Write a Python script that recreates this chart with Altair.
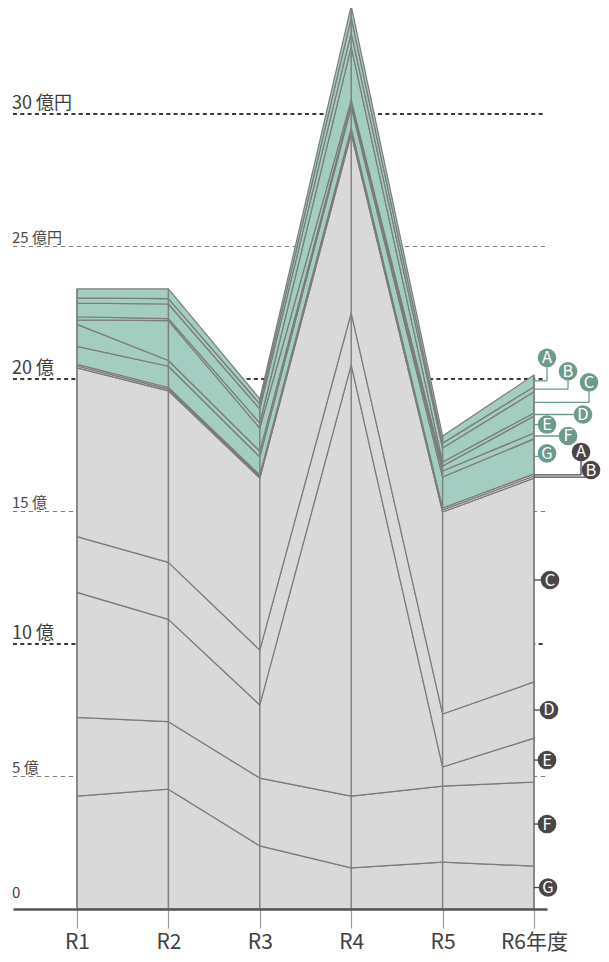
import json
import altair as alt
import pandas as pd

# ---------------- data ----------------
years = ["R1", "R2", "R3", "R4", "R5", "R6年度"]
letters = ["G", "F", "E", "D", "C", "B", "A"]  # bottom -> top inside each group

# gray group (億円)
gray_G = [4.26, 4.52, 2.38, 1.55, 1.77, 1.62]
gray_F = [2.97, 2.55, 2.56, 2.71, 2.87, 3.17]
gray_E = [4.72, 3.86, 2.76, 16.27, 0.72, 1.66]
gray_D = [2.10, 2.15, 2.07, 1.96, 2.00, 2.12]
gray_C = [6.37, 6.47, 6.49, 6.76, 7.62, 7.69]
gray_B = [0.07, 0.07, 0.06, 0.11, 0.08, 0.08]
gray_A = [0.06, 0.06, 0.06, 0.11, 0.07, 0.08]

# green group (億円)
green_G = [0.68, 0.80, 0.68, 0.79, 1.17, 1.32]
green_F = [0.83, 0.22, 0.22, 0.12, 0.23, 0.22]
green_E = [0.17, 1.50, 0.87, 0.15, 0.19, 0.64]
green_D = [0.12, 0.08, 0.19, 2.00, 0.15, 0.12]
green_C = [0.51, 0.55, 0.53, 0.53, 0.53, 0.80]
green_B = [0.20, 0.20, 0.19, 0.57, 0.18, 0.19]
green_A = [0.34, 0.37, 0.19, 0.45, 0.27, 0.44]

grid_values = [5, 10, 15, 20, 25, 30]
grid_labels = ["5 億", "10 億", "15 億", "20 億", "25 億円", "30 億円"]
grid_major = [False, True, False, True, False, True]

# ---------------- layout / style ----------------
WIDTH, HEIGHT = 534, 901
X_MIN, X_MAX = -0.70, 5.142
Y_MAX = 34.0
PX_X = WIDTH / (X_MAX - X_MIN)
PX_Y = HEIGHT / Y_MAX
FONT = "Noto Sans CJK JP"

GRAY_FILL = "#d9d9d9"
GREEN_FILL = "#a3cdc0"
LINE = "#7b7b7b"
GREEN_DOT = "#6c9a8b"
DARK_DOT = "#4a4647"

# label placement (pixel offsets from the R6 edge / layer middle), order A..G
green_label_dx = [13, 34, 55, 49, 13, 34, 13]
green_label_dy = [-23, -18, -20, 0, 0, 0, -3]
gray_label_dx = [47, 57, 16, 15, 13, 13, 14]
gray_label_dy = [-23, -7, 0, 0, 0, 0, 0]

series = {
    ("gray", "G"): gray_G, ("gray", "F"): gray_F, ("gray", "E"): gray_E,
    ("gray", "D"): gray_D, ("gray", "C"): gray_C, ("gray", "B"): gray_B,
    ("gray", "A"): gray_A,
    ("green", "G"): green_G, ("green", "F"): green_F, ("green", "E"): green_E,
    ("green", "D"): green_D, ("green", "C"): green_C, ("green", "B"): green_B,
    ("green", "A"): green_A,
}

rows = []
layer_ids, layer_colors = [], []
order = 0
for grp in ["gray", "green"]:
    for L in letters:
        lid = f"{grp}_{L}"
        layer_ids.append(lid)
        layer_colors.append(GRAY_FILL if grp == "gray" else GREEN_FILL)
        for i, v in enumerate(series[(grp, L)]):
            rows.append({"xi": i, "layer": lid, "group": grp, "letter": L,
                         "value": v, "order": order})
        order += 1
df = pd.DataFrame(rows)

# label anchors at the last year (middle of each layer)
last = len(years) - 1
lab_rows = []
cum = 0.0
for grp in ["gray", "green"]:
    for L in letters:
        v = series[(grp, L)][last]
        mid = cum + v / 2
        cum += v
        idx = "ABCDEFG".index(L)
        if grp == "green":
            dx, dy = green_label_dx[idx], green_label_dy[idx]
        else:
            dx, dy = gray_label_dx[idx], gray_label_dy[idx]
        cx = last + dx / PX_X
        cy = mid - dy / PX_Y
        lab_rows.append({"letter": L, "group": grp, "x0": last, "cx": cx,
                         "mid": mid, "cy": cy})
lab = pd.DataFrame(lab_rows)

grid = pd.DataFrame({"v": grid_values, "label": grid_labels, "major": grid_major})

xscale = alt.Scale(domain=[X_MIN, X_MAX], nice=False, zero=False)
yscale = alt.Scale(domain=[0, Y_MAX], nice=False, zero=True)

label_expr = json.dumps(years, ensure_ascii=False) + "[datum.value]"

# gridlines
grid_major_rule = alt.Chart(grid).transform_filter("datum.major").mark_rule(
    color="#3a3a3a", strokeWidth=1.8, strokeDash=[4, 3.3]
).encode(x=alt.value(0), x2=alt.value(532), y=alt.Y("v:Q", scale=yscale, axis=None))

grid_minor_rule = alt.Chart(grid).transform_filter("!datum.major").mark_rule(
    color="#7a7a7a", strokeWidth=1, strokeDash=[4, 4]
).encode(x=alt.value(0), x2=alt.value(532), y=alt.Y("v:Q", scale=yscale, axis=None))

grid_major_text = alt.Chart(grid).transform_filter("datum.major").mark_text(
    align="left", baseline="alphabetic", dy=-5, fontSize=18, font=FONT, color="#3c3c3c"
).encode(x=alt.value(-1), y=alt.Y("v:Q", scale=yscale, axis=None), text="label:N")

grid_minor_text = alt.Chart(grid).transform_filter("!datum.major").mark_text(
    align="left", baseline="alphabetic", dy=-4, fontSize=15, font=FONT, color="#4a4a4a"
).encode(x=alt.value(-1), y=alt.Y("v:Q", scale=yscale, axis=None), text="label:N")

zero_text = alt.Chart(pd.DataFrame({"v": [0], "t": ["0"]})).mark_text(
    align="left", baseline="alphabetic", dy=-11, fontSize=15, font=FONT, color="#3c3c3c"
).encode(x=alt.value(-1), y=alt.Y("v:Q", scale=yscale, axis=None), text="t:N")

# stacked areas
area = alt.Chart(df).mark_area(
    stroke=LINE, strokeWidth=1.2, strokeJoin="round"
).encode(
    x=alt.X("xi:Q", scale=xscale,
            axis=alt.Axis(values=list(range(len(years))), labelExpr=label_expr,
                          title=None, grid=False, tickSize=19, tickColor="#9a9a9a",
                          tickWidth=1.2, domainColor="#555555", domainWidth=2.6,
                          labelFontSize=21, labelFont=FONT, labelColor="#404040",
                          labelPadding=3, zindex=1)),
    y=alt.Y("value:Q", stack="zero", scale=yscale, axis=None),
    color=alt.Color("layer:N", scale=alt.Scale(domain=layer_ids, range=layer_colors),
                    legend=None),
    order=alt.Order("order:Q", sort="ascending"),
)

# vertical lines at each year
vrules = alt.Chart(df).transform_aggregate(
    total="sum(value)", groupby=["xi"]
).transform_calculate(zero="0").mark_rule(color="#808080", strokeWidth=1.5).encode(
    x=alt.X("xi:Q", scale=xscale),
    y=alt.Y("zero:Q", scale=yscale, axis=None),
    y2="total:Q",
)

dot_color = alt.Color("group:N", scale=alt.Scale(domain=["gray", "green"],
                                                 range=[DARK_DOT, GREEN_DOT]), legend=None)

lead_h = alt.Chart(lab).mark_rule(strokeWidth=1.3).encode(
    x=alt.X("x0:Q", scale=xscale), x2="cx:Q",
    y=alt.Y("mid:Q", scale=yscale, axis=None), color=dot_color,
)
lead_v = alt.Chart(lab).mark_rule(strokeWidth=1.3).encode(
    x=alt.X("cx:Q", scale=xscale),
    y=alt.Y("mid:Q", scale=yscale, axis=None), y2="cy:Q", color=dot_color,
)
dots = alt.Chart(lab).mark_circle(size=345, opacity=1).encode(
    x=alt.X("cx:Q", scale=xscale), y=alt.Y("cy:Q", scale=yscale, axis=None),
    color=dot_color,
)
dot_text = alt.Chart(lab).mark_text(
    color="white", fontSize=16.5, font=FONT, align="center", baseline="middle", dy=0.5
).encode(
    x=alt.X("cx:Q", scale=xscale), y=alt.Y("cy:Q", scale=yscale, axis=None),
    text="letter:N",
)

chart = alt.layer(
    grid_minor_rule, grid_major_rule, area, vrules, lead_h, lead_v, dots, dot_text,
    grid_major_text, grid_minor_text, zero_text,
).resolve_scale(color="independent").properties(
    width=WIDTH, height=HEIGHT,
    autosize=alt.AutoSizeParams(type="none"),
    padding={"left": 5, "top": 0, "right": 54, "bottom": 45},
).configure_view(stroke=None)

chart.save("out.html", embed_options={"renderer": "svg", "actions": False})
